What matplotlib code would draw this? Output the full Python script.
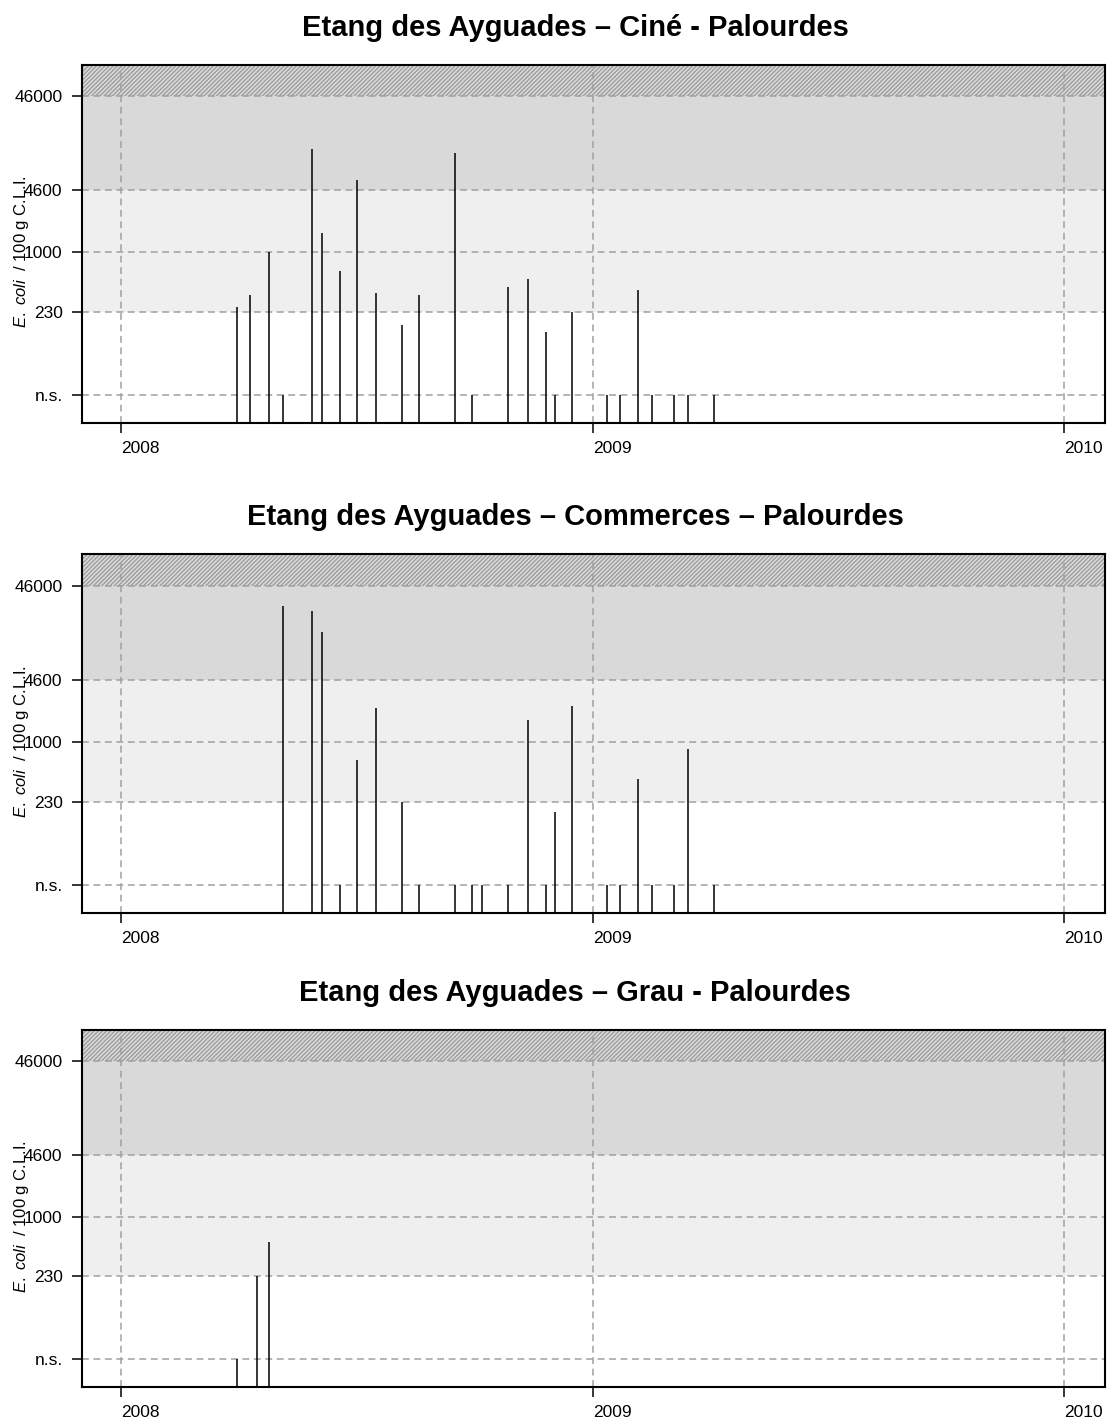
import numpy as np
import matplotlib.pyplot as plt
import matplotlib.dates as mdates

plt.rcParams['font.family'] = ['Liberation Sans', 'DejaVu Sans']
plt.rcParams['mathtext.fontset'] = 'custom'
plt.rcParams['mathtext.rm'] = 'Liberation Sans'
plt.rcParams['mathtext.it'] = 'Liberation Sans:italic'
plt.rcParams['hatch.color'] = '#999999'
plt.rcParams['hatch.linewidth'] = 0.9

# seuils E. coli / 100 g C.L.I.
NS = 30   # valeur tracee pour "n.s."
seuils = [NS, 230, 1000, 4600, 46000]
seuils_lab = ['n.s.', '230', '1000', '4600', '46000']

# Cine
cine_dates = ['2008-03-31', '2008-04-10', '2008-04-25', '2008-05-06', '2008-05-28',
              '2008-06-05', '2008-06-19', '2008-07-02', '2008-07-17', '2008-08-06',
              '2008-08-19', '2008-09-16', '2008-09-29', '2008-10-27', '2008-11-12',
              '2008-11-26', '2008-12-03', '2008-12-16', '2009-01-12', '2009-01-22',
              '2009-02-05', '2009-02-16', '2009-03-05', '2009-03-16', '2009-04-05']
cine_val = [260, 350, 1000, NS, 12500,
            1600, 630, 5900, 365, 165,
            350, 11400, NS, 425, 515,
            140, NS, 230, NS, NS,
            395, NS, NS, NS, NS]

# Commerces
comm_dates = ['2008-05-06', '2008-05-28', '2008-06-05', '2008-06-19', '2008-07-02',
              '2008-07-17', '2008-08-06', '2008-08-19', '2008-09-16', '2008-09-29',
              '2008-10-07', '2008-10-27', '2008-11-12', '2008-11-26', '2008-12-03',
              '2008-12-16', '2009-01-12', '2009-01-22', '2009-02-05', '2009-02-16',
              '2009-03-05', '2009-03-16', '2009-04-05']
comm_val = [28000, 25000, 14600, NS, 640,
            2300, 230, NS, NS, NS,
            NS, NS, 1700, NS, 180,
            2400, NS, NS, 400, NS,
            NS, 840, NS]

# Grau
grau_dates = ['2008-03-31', '2008-04-16', '2008-04-25']
grau_val = [NS, 230, 535]

titres = ['Etang des Ayguades – Ciné - Palourdes',
          'Etang des Ayguades – Commerces – Palourdes',
          'Etang des Ayguades – Grau - Palourdes']

series = [(cine_dates, cine_val), (comm_dates, comm_val), (grau_dates, grau_val)]

fig = plt.figure(figsize=(11.07, 14.26), dpi=100)
positions = [[0.0741, 0.7034, 0.9241, 0.2511],
             [0.0741, 0.3597, 0.9241, 0.2518],
             [0.0741, 0.0274, 0.9241, 0.2504]]

for pos, (dts, vals), titre in zip(positions, series, titres):
    ax = fig.add_axes(pos)
    dts = np.array(dts, dtype='datetime64[D]')

    # zones de classement
    ax.axhspan(230, 4600, color='#efefef', lw=0)
    ax.axhspan(4600, 46000, color='#d9d9d9', lw=0)
    ax.axhspan(46000, 1e5, facecolor='#d9d9d9', edgecolor='#999999', hatch='////////', lw=0)

    ax.vlines(dts, 15, vals, colors='black', lw=1.1, zorder=3)

    ax.set_yscale('log')
    ax.set_ylim(15, 1e5)
    ax.set_xlim(np.datetime64('2007-12-02'), np.datetime64('2010-02-02'))
    ax.set_yticks(seuils)
    ax.set_yticklabels(seuils_lab)
    ax.yaxis.set_minor_locator(plt.NullLocator())
    ax.xaxis.set_major_locator(mdates.YearLocator())
    ax.xaxis.set_major_formatter(mdates.DateFormatter('%Y'))
    for lab in ax.get_xticklabels():
        lab.set_ha('left')

    ax.set_axisbelow('line')
    ax.grid(True, color='#a0a0a0', lw=1.1, linestyle=(0, (4.5, 3)))

    ax.tick_params(axis='both', labelsize=12.5, length=7, width=1.1, direction='out')
    ax.tick_params(axis='y', pad=7)
    ax.tick_params(axis='x', pad=6)
    for sp in ax.spines.values():
        sp.set_linewidth(1.5)

    ax.set_ylabel(r'$\it{E.\ coli}$  / 100 g C.L.I.', fontsize=12)
    ax.yaxis.set_label_coords(-0.0497, 0.478)
    ax.set_title(titre, fontsize=21, fontweight='bold', x=0.482, pad=21)

fig.savefig('out.png', dpi=100)
